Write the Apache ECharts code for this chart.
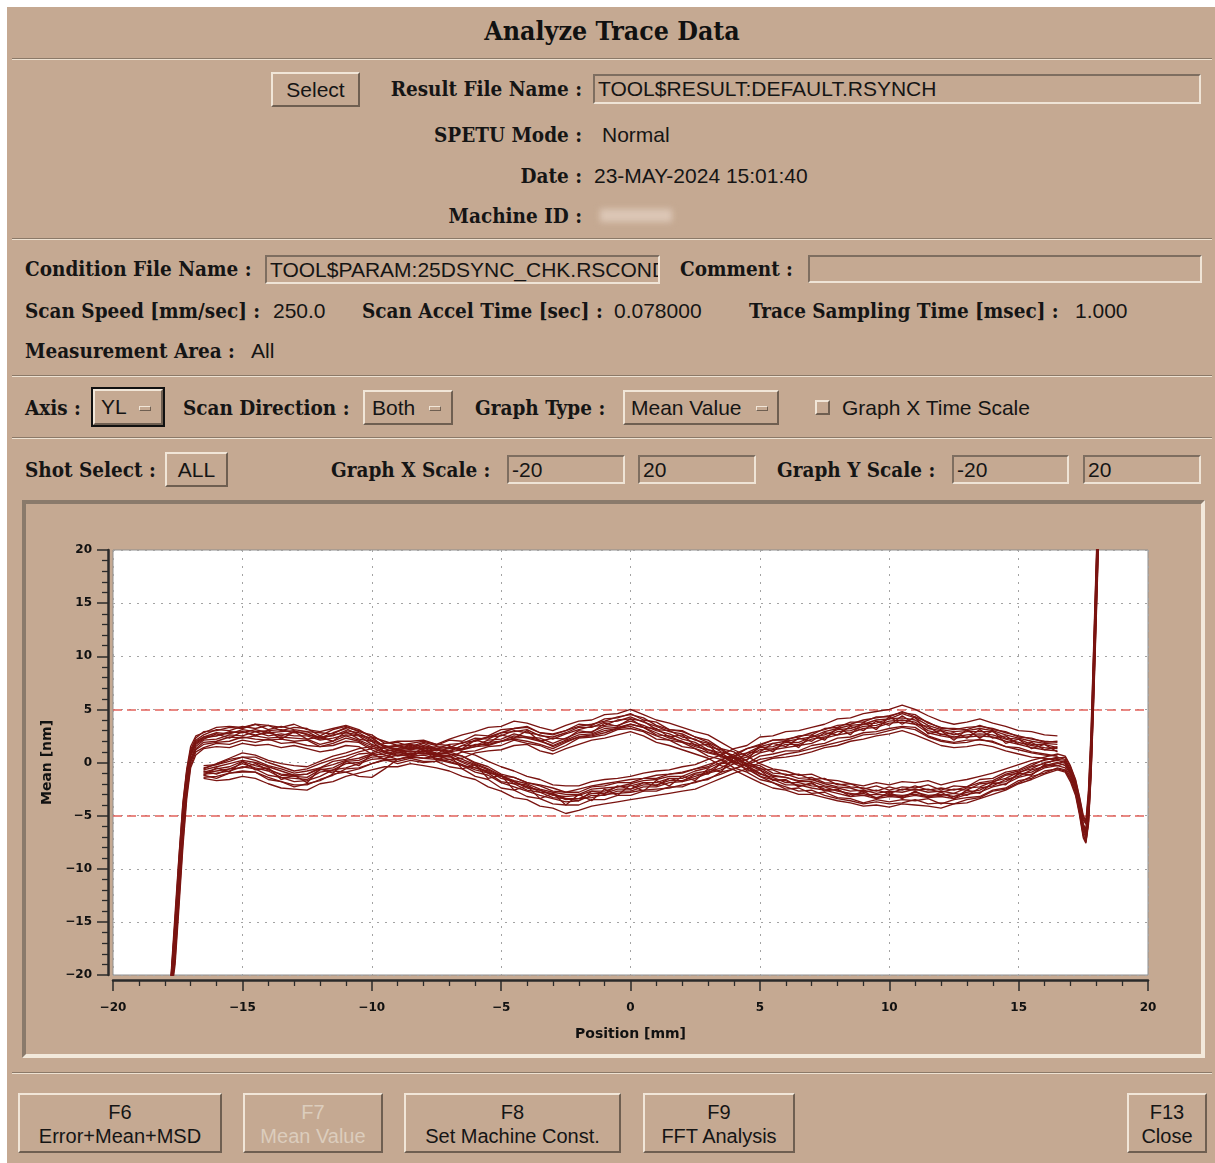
<!DOCTYPE html>
<html>
<head>
<meta charset="utf-8">
<title>Analyze Trace Data</title>
<script src="https://cdn.jsdelivr.net/npm/echarts@6/dist/echarts.min.js"></script>
<style>
  html, body { margin: 0; padding: 0; background: #ffffff; }
  #page { position: relative; width: 1215px; height: 1163px; overflow: hidden; background: #ffffff; }
  #win { position: absolute; left: 7px; top: 7px; width: 1208px; height: 1156px; background: #c5a992; }
  .abs { position: absolute; white-space: nowrap; }
  .title { font-family: "DejaVu Serif Condensed", "DejaVu Serif", serif; font-weight: bold; font-size: 26.5px; color: #111; }
  .lbl { font-family: "DejaVu Serif Condensed", "DejaVu Serif", serif; font-weight: bold; font-size: 20.5px; color: #151515; height: 24px; line-height: 24px; }
  .val { font-family: "Liberation Sans", Arial, sans-serif; font-size: 21px; color: #151515; height: 24px; line-height: 24px; }
  .sep { position: absolute; left: 12px; width: 1200px; height: 0; border-top: 1px solid #8b7968; border-bottom: 1px solid #eee2d2; }
  .raised { position: absolute; box-sizing: border-box; background: #c5a992; border: 2px solid; border-color: #f1e6d8 #6f5f51 #6f5f51 #f1e6d8; }
  .sunken { position: absolute; box-sizing: border-box; background: #c5a992; border: 2px solid; border-color: #7e6e60 #efe4d6 #efe4d6 #7e6e60; overflow: hidden; }
  .field { font-family: "Liberation Sans", Arial, sans-serif; font-size: 21px; color: #151515; padding-left: 3px; line-height: 26px; white-space: nowrap; }
  .btn { font-family: "Liberation Sans", Arial, sans-serif; font-size: 21px; color: #151515; text-align: center; }
  .ind { position: absolute; width: 12px; height: 5px; box-sizing: border-box; border: 1px solid; border-color: #f1e6d8 #6f5f51 #6f5f51 #f1e6d8; }
  .fkey { position: absolute; box-sizing: border-box; background: #c5a992; border: 2px solid; border-color: #f1e6d8 #6f5f51 #6f5f51 #f1e6d8;
          font-family: "Liberation Sans", Arial, sans-serif; font-size: 20px; color: #151515; text-align: center; line-height: 24px; padding-top: 5px; }
  #chart { position: absolute; left: 0; top: 0; width: 1215px; height: 1163px; }
</style>
</head>
<body>
<div id="page">
  <div id="win"></div>

  <!-- header -->
  <div class="abs title" style="left:0;width:1224px;top:15px;text-align:center;">Analyze Trace Data</div>
  <div class="sep" style="top:58px;"></div>

  <div class="raised btn" style="left:271px;top:72px;width:89px;height:35px;line-height:31px;">Select</div>
  <div class="abs lbl" style="right:633px;top:77px;">Result File Name :</div>
  <div class="sunken field" style="left:593px;top:74px;width:608px;height:30px;">TOOL$RESULT:DEFAULT.RSYNCH</div>

  <div class="abs lbl" style="right:633px;top:123px;">SPETU Mode :</div>
  <div class="abs val" style="left:602px;top:123px;">Normal</div>

  <div class="abs lbl" style="right:633px;top:164px;">Date :</div>
  <div class="abs val" style="left:594px;top:164px;">23-MAY-2024 15:01:40</div>

  <div class="abs lbl" style="right:633px;top:204px;">Machine ID :</div>
  <div class="abs" style="left:600px;top:209px;width:72px;height:13px;background:#dcc7b6;filter:blur(3px);"></div>

  <div class="sep" style="top:238px;"></div>

  <!-- condition block -->
  <div class="abs lbl" style="left:25px;top:257px;">Condition File Name :</div>
  <div class="sunken field" style="left:265px;top:255px;width:395px;height:29px;">TOOL$PARAM:25DSYNC_CHK.RSCOND</div>
  <div class="abs lbl" style="left:680px;top:257px;">Comment :</div>
  <div class="sunken" style="left:808px;top:255px;width:394px;height:28px;"></div>

  <div class="abs lbl" style="left:25px;top:299px;">Scan Speed [mm/sec] :</div>
  <div class="abs val" style="left:273px;top:299px;">250.0</div>
  <div class="abs lbl" style="left:362px;top:299px;">Scan Accel Time [sec] :</div>
  <div class="abs val" style="left:614px;top:299px;">0.078000</div>
  <div class="abs lbl" style="left:749px;top:299px;">Trace Sampling Time [msec] :</div>
  <div class="abs val" style="left:1075px;top:299px;">1.000</div>

  <div class="abs lbl" style="left:25px;top:339px;">Measurement Area :</div>
  <div class="abs val" style="left:251px;top:339px;">All</div>

  <div class="sep" style="top:375px;"></div>

  <!-- graph selection -->
  <div class="abs lbl" style="left:25px;top:396px;">Axis :</div>
  <div class="abs" style="left:91px;top:387px;width:74px;height:40px;box-sizing:border-box;border:2px solid #111;"></div>
  <div class="raised" style="left:93px;top:389px;width:70px;height:36px;">
    <div class="abs val" style="left:6px;top:4px;">YL</div>
    <div class="ind" style="left:44px;top:15px;"></div>
  </div>
  <div class="abs lbl" style="left:183px;top:396px;">Scan Direction :</div>
  <div class="raised" style="left:363px;top:390px;width:90px;height:35px;">
    <div class="abs val" style="left:7px;top:4px;">Both</div>
    <div class="ind" style="left:64px;top:14px;"></div>
  </div>
  <div class="abs lbl" style="left:475px;top:396px;">Graph Type :</div>
  <div class="raised" style="left:623px;top:390px;width:156px;height:35px;">
    <div class="abs val" style="left:6px;top:4px;">Mean Value</div>
    <div class="ind" style="left:131px;top:14px;"></div>
  </div>
  <div class="raised" style="left:815px;top:400px;width:15px;height:15px;"></div>
  <div class="abs val" style="left:842px;top:396px;">Graph X Time Scale</div>

  <div class="sep" style="top:437px;"></div>

  <!-- scale row -->
  <div class="abs lbl" style="left:25px;top:458px;">Shot Select :</div>
  <div class="raised btn" style="left:165px;top:452px;width:63px;height:35px;line-height:31px;">ALL</div>
  <div class="abs lbl" style="left:331px;top:458px;">Graph X Scale :</div>
  <div class="sunken field" style="left:507px;top:455px;width:118px;height:29px;">-20</div>
  <div class="sunken field" style="left:638px;top:455px;width:118px;height:29px;">20</div>
  <div class="abs lbl" style="left:777px;top:458px;">Graph Y Scale :</div>
  <div class="sunken field" style="left:952px;top:455px;width:117px;height:29px;">-20</div>
  <div class="sunken field" style="left:1083px;top:455px;width:118px;height:29px;">20</div>

  <!-- chart panel frame -->
  <div class="abs" style="left:22px;top:500px;width:1183px;height:558px;box-sizing:border-box;border:4px solid;border-color:#8a7a6b #f3e9db #f3e9db #8a7a6b;"></div>

  <div class="sep" style="top:1072px;"></div>

  <!-- function keys -->
  <div class="fkey" style="left:18px;top:1093px;width:204px;height:60px;">F6<br>Error+Mean+MSD</div>
  <div class="fkey" style="left:243px;top:1093px;width:140px;height:60px;color:#dccdbd;">F7<br>Mean Value</div>
  <div class="fkey" style="left:404px;top:1093px;width:217px;height:60px;">F8<br>Set Machine Const.</div>
  <div class="fkey" style="left:643px;top:1093px;width:152px;height:60px;">F9<br>FFT Analysis</div>
  <div class="fkey" style="left:1127px;top:1093px;width:80px;height:60px;">F13<br>Close</div>

  <div id="chart"></div>
</div>

<script>
// Scan positions [mm]
const gridPos = [-16.5,-16,-15.5,-15,-14.5,-14,-13.5,-13,-12.5,-12,-11.5,-11,-10.5,-10,-9.5,-9,-8.5,-8,-7.5,-7,
  -6.5,-6,-5.5,-5,-4.5,-4,-3.5,-3,-2.5,-2,-1.5,-1,-0.5,0,0.5,1,1.5,2,2.5,3,3.5,4,4.5,5,5.5,6,6.5,7,7.5,8,8.5,9,9.5,
  10,10.5,11,11.5,12,12.5,13,13.5,14,14.5,15,15.5,16,16.5];
const accelPos = [-17.8,-17.6,-17.45,-17.3,-17.15,-17.0,-16.8];
const decelPos = [16.8,17.0,17.2,17.35,17.5,17.6,17.7,17.8,17.9,18.0,18.1];
const positionsFwd = [...accelPos, ...gridPos, ...decelPos];
const positionsRev = gridPos;

// Mean error [nm], scans that include the acceleration / deceleration ends
const shotF1 = [-22,-15,-9.5,-4.5,-1.0,1.0,2.1,
  2.6,3.1,3.0,3.4,3.2,3.5,3.0,3.3,3.2,2.5, 3.1,3.4,2.9,2.6,1.8,1.9,1.5,1.9,1.6,2.1,
  2.0,2.6,2.5,3.1,3.2,3.4,2.8,2.7,3.0,3.6, 3.5,4.1,4.2,4.6,4.0,3.8,3.1,3.0,2.4,2.1,
  1.3,1.0,0.1,-0.6,-0.7,-1.2,-1.1,-1.6,-1.5,-2.1, -2.0,-2.5,-2.2,-2.6,-2.3,-2.4,-2.1,-2.6,-2.2,-2.3,
  -1.6,-1.5,-0.9,-0.7,-0.1,0.2,0.5,
  0.3,-0.6,-1.9,-3.5,-5.4,-5.8,-3.0,2.5,10.5,18.5,26];
const shotF2 = [-22.5,-18.5,-13.0,-7.5,-3.0,-0.3,1.0,
  1.4,1.8,1.7,2.1,1.9,2.2,1.8,1.9,1.6,1.5, 1.6,2.0,1.9,1.2,0.7,0.3,0.5,0.4,0.6,0.5,
  1.0,1.1,1.5,1.6,2.1,1.8,1.6,1.1,1.6,2.3, 2.4,2.6,3.1,3.2,2.9,2.2,2.1,1.5,1.3,0.6,
  0.3,-0.5,-0.9,-1.6,-1.9,-2.5,-2.4,-2.9,-2.8,-3.3, -3.4,-3.8,-3.5,-3.7,-3.5,-3.6,-3.4,-3.9,-3.5,-3.3,
  -3.2,-2.6,-2.4,-1.7,-1.5,-0.8,-0.6,
  -0.8,-1.6,-2.8,-4.6,-6.8,-7.4,-5.6,-1.0,6.0,14.0,22.0];
const shotF3 = [-22,-16.0,-10.5,-5.0,-1.3,0.8,1.8,
  2.3,2.5,2.9,2.8,3.1,2.8,2.9,3.0,2.6,2.4, 2.5,3.0,2.8,2.1,1.6,1.2,1.4,1.3,1.5,1.4,
  1.9,2.0,2.4,2.5,3.0,2.8,2.6,2.2,2.7,3.1, 3.4,3.5,4.0,4.1,3.9,3.1,3.0,2.4,2.2,1.5,
  1.2,0.4,-0.2,-0.7,-1.3,-1.4,-1.8,-1.8,-2.2,-2.4, -2.7,-2.6,-2.9,-2.7,-2.8,-2.5,-2.8,-2.7,-2.9,-2.4,
  -2.3,-1.8,-1.5,-0.9,-0.6,0.0,0.2,
  0.0,-0.9,-2.2,-3.9,-6.0,-6.6,-4.2,0.8,8.3,16.3,24.3];
const shotF4 = [-22.3,-17.8,-12.2,-6.8,-2.5,0.1,1.3,
  1.9,2.0,2.4,2.3,2.5,2.3,2.4,2.3,2.2,1.7, 2.0,2.5,2.1,1.6,1.0,0.7,0.9,0.8,0.8,1.0,
  1.2,1.7,1.7,2.0,2.5,2.3,2.0,1.6,2.1,2.6, 2.7,3.2,3.3,3.6,3.3,2.6,2.5,1.9,1.7,1.0,
  0.7,-0.1,-0.6,-1.3,-1.6,-2.1,-2.1,-2.4,-2.6,-2.9, -3.2,-3.1,-3.4,-3.2,-3.3,-3.1,-3.3,-3.2,-3.4,-3.0,
  -2.8,-2.3,-2.0,-1.4,-1.1,-0.5,-0.3,
  -0.5,-1.3,-2.6,-4.3,-6.5,-7.1,-5.2,-0.4,6.8,14.8,22.8];
const shotF5 = [-21.6,-14.2,-8.8,-3.8,-0.6,1.5,2.5,
  2.8,3.3,3.4,3.3,3.6,3.5,3.3,3.6,3.1,2.9, 3.2,3.5,3.1,2.4,2.0,1.6,1.8,2.0,1.7,2.2,
  2.6,2.9,3.3,3.4,3.9,3.7,3.3,3.0,3.5,3.9, 4.0,4.5,4.6,5.0,4.5,4.0,3.7,3.3,2.9,2.6,
  1.9,1.2,0.6,-0.1,-0.6,-0.8,-1.2,-1.1,-1.6,-1.7, -2.0,-2.2,-1.9,-2.1,-1.8,-1.9,-1.7,-2.1,-1.8,-1.6,
  -1.3,-1.0,-0.6,-0.2,0.2,0.5,0.8,
  0.6,-0.3,-1.6,-3.2,-5.0,-5.5,-2.6,3.0,11.0,19.0,27.0];
const shotF6 = [-22.8,-19.0,-13.6,-8.0,-3.4,-0.5,0.7,
  1.3,1.5,1.4,1.8,1.6,1.7,1.4,1.6,1.3,1.0, 1.2,1.6,1.5,0.8,0.3,-0.1,0.2,0.0,0.1,0.3,
  0.4,0.9,1.1,1.2,1.6,1.7,1.1,0.8,1.3,1.7, 2.1,2.3,2.6,2.9,2.5,1.9,1.6,1.2,0.8,0.4,
  -0.3,-0.7,-1.3,-1.9,-2.4,-2.6,-3.0,-3.0,-3.3,-3.6, -3.8,-4.1,-4.0,-4.2,-3.9,-4.0,-4.1,-4.3,-3.9,-3.8,
  -3.4,-3.0,-2.6,-2.0,-1.6,-1.1,-0.7,
  -0.9,-1.8,-3.1,-4.9,-7.1,-7.6,-5.8,-1.2,5.6,13.5,21.5];
const shotF7 = [-21.8,-15.5,-10.0,-4.8,-1.1,0.9,1.9,
  2.4,2.8,2.7,3.1,2.9,3.0,3.1,2.8,2.9,2.3, 2.8,3.2,2.6,2.3,1.5,1.5,1.2,1.6,1.3,1.7,
  1.8,2.3,2.2,2.8,2.9,3.1,2.5,2.4,2.8,3.3, 3.3,3.8,3.9,4.3,3.8,3.4,2.9,2.7,2.1,1.8,
  1.0,0.7,-0.2,-0.5,-1.2,-1.4,-1.7,-1.6,-2.0,-2.3, -2.4,-2.8,-2.6,-2.9,-2.5,-2.6,-2.5,-2.8,-2.5,-2.6,
  -2.0,-1.9,-1.2,-1.0,-0.4,-0.1,0.3,
  0.2,-0.8,-2.0,-3.7,-5.8,-6.3,-3.8,1.6,9.4,17.4,25.4];
const shotF8 = [-22,-17.0,-11.5,-6.0,-2.0,0.3,1.5,
  2.1,2.2,2.6,2.5,2.9,2.5,2.7,2.5,2.5,2.1, 2.3,2.6,2.5,1.7,1.3,0.9,1.1,1.0,1.2,1.1,
  1.6,1.6,2.1,2.2,2.7,2.4,2.3,1.8,2.3,2.8, 2.9,3.4,3.5,3.9,3.5,3.0,2.7,2.2,1.9,1.2,
  0.9,0.1,-0.4,-1.1,-1.4,-1.9,-1.9,-2.2,-2.3,-2.7, -2.9,-3.1,-3.0,-3.1,-3.2,-2.8,-3.1,-3.0,-3.2,-2.8,
  -2.6,-2.0,-1.8,-1.1,-0.9,-0.3,0.0,
  -0.3,-1.1,-2.4,-4.1,-6.2,-6.9,-4.5,0.5,8.0,16.0,24.0];
const shotF9 = [-21.7,-14.8,-9.0,-4.0,-0.8,1.2,2.3,
  2.9,3.0,3.3,3.2,3.6,3.1,3.4,3.1,2.9,2.8, 2.7,3.3,3.0,2.4,1.4,1.6,1.3,1.8,1.3,1.4,
  1.2,1.5,1.6,2.0,2.2,2.0,1.7,1.3,1.9,2.4, 2.5,2.8,3.2,3.4,3.0,2.5,2.1,1.9,1.3,0.9,
  0.6,0.5,-0.1,-0.3,-1.0,-1.1,-1.5,-1.4,-1.9,-2.0, -2.3,-2.4,-2.7,-2.3,-2.6,-2.2,-2.6,-2.4,-2.6,-2.3,
  -1.9,-1.7,-1.1,-0.8,-0.3,0.3,0.4,
  0.5,-0.4,-1.7,-3.3,-5.2,-5.7,-3.3,2.0,10.0,18.0,26.0];
const shotF10 = [-22.4,-18.0,-12.6,-7.0,-2.7,0.0,1.2,
  1.7,1.9,2.0,2.4,2.2,2.1,2.2,2.0,2.1,1.5, 1.8,2.3,2.0,1.4,0.9,0.6,0.8,0.9,0.7,1.0,
  1.6,2.1,2.4,2.8,3.2,3.3,2.8,2.6,3.0,3.4, 3.6,3.9,4.3,4.5,4.2,3.5,3.1,2.9,2.4,1.9,
  1.3,0.5,-0.4,-1.3,-1.9,-2.3,-2.7,-2.6,-3.1,-3.4, -3.6,-3.9,-3.7,-3.9,-3.8,-3.5,-3.9,-3.8,-3.9,-3.5,
  -3.3,-2.7,-2.5,-1.9,-1.3,-1.0,-0.5,
  -0.7,-1.5,-2.9,-4.7,-6.9,-7.5,-5.5,-0.8,6.4,14.4,22.4];
const shotF11 = [-22.1,-16.3,-10.8,-5.4,-1.6,0.6,1.7,
  2.2,2.7,2.3,2.9,2.5,3.0,2.2,2.9,2.2,2.4, 2.0,2.9,2.2,2.0,1.0,1.3,0.7,1.4,0.8,1.5,
  1.3,2.1,1.8,2.6,2.3,3.0,2.0,2.3,2.2,3.0, 2.8,3.7,3.4,4.1,3.3,3.2,2.4,2.6,1.6,1.7,
  0.5,0.4,-0.8,-0.7,-1.7,-1.6,-2.3,-1.9,-2.7,-2.5, -3.2,-2.7,-3.4,-2.8,-3.4,-2.7,-3.3,-2.8,-3.4,-2.6,
  -2.9,-1.9,-2.1,-1.0,-1.2,-0.2,-0.3,
  -0.1,-1.0,-2.3,-4.0,-6.1,-6.8,-4.6,0.4,7.6,15.6,23.6];
const shotF12 = [-21.9,-15.8,-10.3,-4.9,-1.2,0.9,2.0,
  2.4,2.5,2.8,2.9,2.6,2.8,2.5,2.9,2.7,2.2, 2.6,2.8,2.6,2.0,1.5,1.1,1.2,1.4,1.1,1.3,
  1.3,1.5,1.9,2.0,2.3,2.4,2.1,1.5,2.0,2.4, 2.6,3.0,3.2,3.6,3.3,2.8,2.3,2.0,1.5,1.2,
  0.7,0.0,-0.3,-1.0,-1.6,-1.7,-2.2,-2.0,-2.5,-2.6, -3.0,-2.9,-3.3,-3.0,-3.1,-3.0,-3.2,-3.1,-2.9,-3.1,
  -2.4,-2.2,-1.6,-1.3,-0.7,-0.4,-0.1,
  0.1,-0.8,-2.1,-3.8,-5.9,-6.4,-4.0,1.2,9.0,17.0,25.0];

// Mean error [nm], scans measured over the constant-speed area only
const shotR1 = [-0.5,-0.2,0.1,0.5,0.2,-0.3,-0.6,-1.0,-0.8,-0.5, 0.1,0.3,0.8,0.9,1.4,1.3,1.6,1.3,1.3,0.8,
  0.6,0.0,-0.4,-1.1,-1.4,-1.9,-2.2,-2.7,-2.8,-2.8, -2.3,-2.2,-1.9,-1.9,-1.5,-1.5,-1.1,-1.0,-0.6,-0.4,
  0.3,0.6,1.3,1.6,2.1,2.1,2.5,2.6,3.2,3.3, 3.8,3.8,4.3,4.3,4.8,4.3,3.8,3.2,3.2,3.1, 3.5,3.1,2.9,2.4,2.3,1.9,2.0];
const shotR2 = [-1.2,-1.5,-1.0,-0.9,-0.9,-1.6,-1.8,-2.3,-2.0,-1.7, -1.1,-0.9,-0.6,-0.1,0.2,0.1,0.4,0.1,0.1,-0.4,
  -0.6,-1.3,-1.6,-2.4,-2.6,-3.2,-3.4,-3.9,-4.0,-4.0, -3.5,-3.5,-3.1,-3.1,-2.7,-2.7,-2.3,-2.3,-1.8,-1.6,
  -0.9,-0.6,-0.1,0.6,0.8,1.1,1.1,1.6,1.8,2.3, 2.4,2.8,2.9,3.2,3.4,3.3,2.5,2.1,1.9,2.1, 2.1,2.0,1.5,1.4,1.0,0.8,0.6];
const shotR3 = [-0.9,-0.6,-0.4,0.1,-0.3,-0.6,-1.2,-1.3,-1.4,-0.7, -0.5,0.1,0.2,0.7,0.8,1.1,1.0,1.1,0.7,0.6,
  0.0,-0.5,-0.8,-1.5,-1.8,-2.4,-2.6,-3.1,-3.2,-3.1, -2.7,-2.7,-2.3,-2.2,-1.9,-1.9,-1.5,-1.5,-1.0,-0.8,
  -0.1,0.4,0.7,1.4,1.5,1.9,1.9,2.4,2.6,3.1, 3.2,3.6,3.7,4.1,4.2,4.0,3.2,3.0,2.6,2.9, 2.9,2.9,2.3,2.2,1.7,1.7,1.4];
const shotR4 = [-1.1,-1.0,-0.8,-0.4,-0.6,-1.2,-1.4,-1.8,-1.7,-1.3, -0.7,-0.5,-0.1,0.3,0.4,0.7,0.6,0.7,0.4,0.1,
  -0.3,-0.9,-1.2,-1.9,-2.3,-2.7,-3.1,-3.4,-3.7,-3.6, -3.1,-3.1,-2.7,-2.7,-2.3,-2.3,-1.9,-1.8,-1.5,-1.0,
  -0.7,-0.1,0.3,0.9,1.2,1.4,1.6,1.8,2.3,2.6, 2.8,3.2,3.3,3.7,3.8,3.6,2.8,2.5,2.3,2.4, 2.5,2.4,2.0,1.7,1.4,1.2,1.1];
const shotR5 = [-0.6,-0.1,0.4,0.9,0.7,0.2,-0.1,-0.3,-0.4,0.1, 0.6,0.9,1.3,1.5,1.8,2.0,2.0,2.1,1.7,1.6,
  1.0,0.7,0.1,-0.4,-0.8,-1.3,-1.6,-2.1,-2.2,-2.2, -1.8,-1.6,-1.5,-1.3,-1.0,-0.8,-0.7,-0.4,-0.2,0.3,
  0.7,1.3,1.6,2.4,2.5,2.9,3.0,3.3,3.6,4.1, 4.2,4.6,4.8,5.0,5.4,5.0,4.4,3.9,3.6,3.8, 4.1,3.7,3.4,3.0,2.9,2.6,2.5];
const shotR6 = [-1.5,-1.7,-1.6,-1.3,-1.5,-2.0,-2.4,-2.5,-2.6,-2.0, -1.8,-1.3,-1.0,-0.7,-0.4,-0.4,-0.1,-0.3,-0.5,-0.8,
  -1.3,-1.6,-2.3,-2.7,-3.3,-3.5,-4.1,-4.3,-4.8,-4.5, -4.1,-3.9,-3.7,-3.5,-3.3,-3.1,-2.9,-2.7,-2.5,-2.0,
  -1.5,-1.0,-0.6,0.0,0.4,0.5,0.7,1.0,1.4,1.6, 2.0,2.2,2.5,2.7,3.0,2.6,2.1,1.6,1.4,1.5, 1.7,1.5,1.1,0.8,0.5,0.4,0.2];
const shotR7 = [-0.7,-0.4,-0.1,0.2,0.0,-0.4,-0.8,-1.2,-1.1,-0.5, -0.2,0.2,0.4,0.8,1.1,1.2,1.4,1.2,0.9,0.8,
  0.3,-0.2,-0.7,-1.3,-1.7,-2.0,-2.5,-2.8,-3.0,-3.0, -2.5,-2.4,-2.3,-2.0,-1.7,-1.6,-1.3,-1.3,-0.8,-0.5,
  0.0,0.6,0.9,1.5,1.8,2.0,2.2,2.4,2.9,3.2, 3.5,3.6,4.0,4.1,4.6,4.2,3.5,3.1,2.9,3.0, 3.2,3.0,2.6,2.3,2.0,1.8,1.7];
const shotR8 = [-1.0,-0.8,-0.6,-0.1,-0.5,-0.8,-1.4,-1.5,-1.6,-0.9, -0.7,-0.1,0.0,0.5,0.6,0.9,0.8,0.9,0.6,0.3,
  -0.2,-0.7,-1.0,-1.8,-2.0,-2.6,-2.8,-3.3,-3.4,-3.4, -2.9,-2.9,-2.5,-2.5,-2.1,-2.1,-1.7,-1.7,-1.3,-0.9,
  -0.5,0.2,0.5,1.2,1.3,1.7,1.7,2.2,2.4,2.9, 3.0,3.4,3.5,3.9,4.0,3.8,3.0,2.7,2.4,2.6, 2.7,2.6,2.2,1.9,1.6,1.4,1.3];
const shotR9 = [-0.8,-1.1,-0.6,-0.5,-0.1,-0.7,-1.1,-1.2,-1.1,-0.6, -0.8,-0.9,-1.3,-1.4,-0.6,0.3,0.6,1.1,0.8,0.6,
  0.1,-0.3,-1.0,-1.2,-2.0,-2.1,-2.8,-2.9,-3.4,-3.6, -2.7,-2.9,-2.2,-2.5,-1.9,-2.2,-1.5,-1.8,-1.1,-1.1,
  -0.1,0.0,0.9,1.0,1.8,1.5,2.3,2.0,2.8,2.6, 3.4,3.0,3.9,3.5,4.4,3.6,3.4,2.6,2.8,2.3, 3.1,2.3,2.5,1.7,1.9,1.2,1.5];
const shotR10 = [-0.3,-0.2,0.3,0.5,0.5,0.0,-0.4,-0.8,-0.6,-0.1, 0.3,0.6,1.0,1.3,1.5,1.6,1.7,1.5,1.2,1.0,
  0.6,-0.1,-0.6,-1.2,-1.8,-2.3,-2.6,-3.0,-3.5,-3.4, -3.3,-3.0,-2.9,-2.8,-2.6,-2.5,-2.4,-2.1,-1.9,-1.5,
  -1.1,-0.6,-0.2,0.3,0.5,0.8,1.0,1.3,1.6,1.9, 2.2,2.6,2.7,3.0,3.3,3.1,2.4,2.0,1.8,1.9, 2.2,1.9,1.5,1.2,0.9,0.7,0.6];
const shotR11 = [-1.4,-1.3,-1.0,-0.8,-0.9,-1.4,-1.8,-2.1,-2.1,-1.6, -1.2,-0.6,-0.5,-0.1,0.3,0.3,0.6,0.4,0.3,0.0,
  -0.3,-0.5,-0.9,-1.3,-1.4,-1.9,-2.1,-2.4,-2.8,-2.5, -2.2,-2.0,-1.8,-1.6,-1.5,-1.2,-1.1,-0.9,-0.6,-0.2,
  0.2,0.8,1.3,1.7,2.1,2.2,2.4,2.8,3.1,3.5, 3.6,4.0,4.2,4.4,4.7,4.5,3.7,3.3,3.1,3.3, 3.4,3.2,2.8,2.5,2.2,2.0,1.9];
const shotR12 = [-1.2,-0.5,-0.9,0.1,-0.7,-0.5,-1.6,-1.2,-1.9,-0.6, -1.0,0.1,-0.3,0.8,0.3,1.2,0.5,1.2,0.2,0.7,
  -0.6,-0.2,-1.5,-1.2,-2.6,-2.2,-3.4,-2.9,-4.0,-3.0, -3.6,-2.5,-3.1,-2.1,-2.7,-1.7,-2.2,-1.3,-1.7,-0.6,
  -0.9,0.5,0.2,1.6,1.0,2.1,1.4,2.6,2.1,3.3, 2.6,3.8,3.1,4.3,3.6,4.3,2.7,3.0,2.1,3.1, 2.3,3.0,1.8,2.2,1.3,1.7,1.0];

// Tolerance band [nm]
const limitLines = [5, -5];
// Axis ranges
const xRange = [-20, 20];
const yRange = [-20, 20];
const majorStep = 5;

const fwdShots = [shotF1, shotF2, shotF3, shotF4, shotF5, shotF6, shotF7, shotF8, shotF9, shotF10, shotF11, shotF12];
const revShots = [shotR1, shotR2, shotR3, shotR4, shotR5, shotR6, shotR7, shotR8, shotR9, shotR10, shotR11, shotR12];

const traceColor = '#7a1411';
const tickFont = { fontFamily: 'DejaVu Sans', fontWeight: 'bold', fontSize: 12, color: '#111' };
const minusFmt = v => String(v).replace('-', '\u2212');

function toSeries(pos, ys, idx) {
  const s = {
    type: 'line',
    data: pos.map((x, i) => [x, ys[i]]),
    showSymbol: false,
    symbol: 'none',
    smooth: false,
    clip: true,
    silent: true,
    animation: false,
    lineStyle: { color: traceColor, width: 1.35 },
    z: 3
  };
  if (idx === 0) {
    s.markLine = {
      silent: true,
      symbol: ['none', 'none'],
      label: { show: false },
      lineStyle: { color: '#e2615b', type: [9, 5], width: 1.6 },
      data: limitLines.map(v => ({ yAxis: v })),
      z: 2
    };
  }
  return s;
}

const series = [];
fwdShots.forEach(s => series.push(toSeries(positionsFwd, s, series.length)));
revShots.forEach(s => series.push(toSeries(positionsRev, s, series.length)));

const axisCommon = {
  type: 'value',
  interval: majorStep,
  offset: 5,
  axisLine: { show: true, onZero: false, lineStyle: { color: '#2a2a2a', width: 2.5 } },
  axisTick: { show: true, length: 11, lineStyle: { color: '#2a2a2a', width: 1.5 } },
  minorTick: { show: true, splitNumber: 5, length: 6, lineStyle: { color: '#2a2a2a', width: 1.3 } },
  splitLine: { show: true, lineStyle: { color: '#a3a3a3', type: [2, 6], width: 1 } },
  minorSplitLine: { show: false },
  nameTextStyle: { fontFamily: 'DejaVu Sans', fontWeight: 'bold', fontSize: 14, color: '#111' }
};

const chart = echarts.init(document.getElementById('chart'), null, { renderer: 'canvas' });
chart.setOption({
  backgroundColor: 'transparent',
  animation: false,
  grid: {
    left: 113, right: 67, top: 550, bottom: 188,
    show: true, backgroundColor: '#ffffff', borderColor: '#8f8f8f', borderWidth: 1
  },
  xAxis: Object.assign({}, axisCommon, {
    min: xRange[0], max: xRange[1],
    name: 'Position [mm]', nameLocation: 'middle', nameGap: 47,
    axisLabel: Object.assign({ margin: 22, formatter: minusFmt }, tickFont)
  }),
  yAxis: Object.assign({}, axisCommon, {
    min: yRange[0], max: yRange[1],
    name: 'Mean [nm]', nameLocation: 'middle', nameGap: 50, nameRotate: 90,
    axisLabel: Object.assign({ margin: 16, formatter: minusFmt }, tickFont)
  }),
  series: series
});
</script>
</body>
</html>
